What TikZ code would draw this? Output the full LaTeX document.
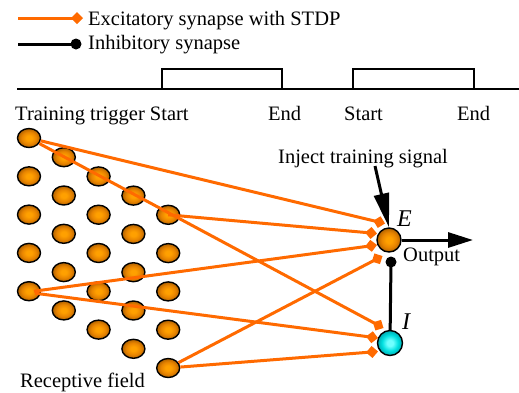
\documentclass[tikz,border=0pt]{standalone}
\usepackage{fontspec}
\setmainfont{Liberation Serif}
\usetikzlibrary{arrows.meta,shapes.geometric}

\definecolor{excline}{HTML}{FF6A00}
\definecolor{ballhi}{HTML}{FFA000}
\definecolor{ballmid}{HTML}{E88400}
\definecolor{balllo}{HTML}{B06200}
\definecolor{cyanhi}{HTML}{70FFFF}
\definecolor{cyanmid}{HTML}{00E0E0}
\definecolor{cyanlo}{HTML}{00A8B0}

% radial shadings: the path edge sits at 25bp
\pgfdeclareradialshading{orangeball}{\pgfpoint{0bp}{0bp}}{%
  color(0bp)=(ballhi); color(6bp)=(ballhi); color(16bp)=(ballmid);
  color(25bp)=(balllo); color(50bp)=(balllo)}
\pgfdeclareradialshading{cyanball}{\pgfpoint{0bp}{0bp}}{%
  color(0bp)=(cyanhi); color(6bp)=(cyanhi); color(16bp)=(cyanmid);
  color(25bp)=(cyanlo); color(50bp)=(cyanlo)}

\tikzset{
  cell/.style={ellipse, draw=black, line width=1.4pt, minimum width=23pt,
    minimum height=19pt, inner sep=0pt, shade, shading=orangeball},
  excneuron/.style={circle, draw=black, line width=1.4pt, minimum size=24pt,
    inner sep=0pt, shade, shading=orangeball},
  inhneuron/.style={circle, draw=black, line width=1.4pt, minimum size=25pt,
    inner sep=0pt, shade, shading=cyanball},
  excsyn/.style={draw=excline, line width=3pt,
    -{Diamond[length=12pt,width=12pt]}},
  inhsyn/.style={draw=black, line width=3pt},
  inhdot/.style={circle, fill=black, minimum size=11pt, inner sep=0pt},
  bigarrow/.style={draw=black, line width=3pt},
  txt/.style={inner sep=0pt, anchor=base west},
  lbl/.style={inner sep=0pt, anchor=base west,
    font=\fontsize{24}{28}\selectfont\itshape},
}

\begin{document}
\begin{tikzpicture}[x=1pt, y=-1pt, font=\fontsize{20.5}{24}\selectfont]
\useasboundingbox (0,0) rectangle (519,392);

% legend
\coordinate (lgA1) at (18,18);
\coordinate (lgA2) at (83,18);
\coordinate (lgB1) at (18,44);
\node[inhdot] (lgBdot) at (76,44) {};
\draw[excsyn] (lgA1) -- (lgA2);
\draw[inhsyn] (lgB1) -- (lgBdot.center);
\node[txt] (lgAtxt) at (88,25) {Excitatory synapse with STDP};
\node[txt] (lgBtxt) at (88,49.5) {Inhibitory synapse};

% training trigger: time axis with two training windows
\draw[line width=1.5pt] (17,89) -- (519,89);
\draw[line width=1.5pt] (162,89) -- (162,69) -- (282,69) -- (282,89);
\draw[line width=1.5pt] (353,89) -- (353,69) -- (474,69) -- (474,89);
\node[txt] (trg) at (15,120) {Training trigger Start};
\node[txt] (end1) at (268,120) {End};
\node[txt] (start2) at (344,120) {Start};
\node[txt] (end2) at (457,120) {End};

% receptive field: 5x5 skewed grid of input cells
\foreach \i in {0,...,4}
  \foreach \j in {0,...,4}
    \node[cell] (c-\i-\j) at ({29+34.8*\i},{138+19.2*\i+38.3*\j}) {};
\node[txt] (rf) at (20,387) {Receptive field};

% output neurons
\node[excneuron] (E) at (389,240) {};
\node[inhneuron] (I) at (390,343) {};
\node[lbl] (Elbl) at (397,226) {E};
\node[lbl] (Ilbl) at (402,329) {I};

% synapse end points
\coordinate (eA) at (385,223.5);
\coordinate (eB) at (377,233.5);
\coordinate (eC) at (377,245);
\coordinate (eD) at (382.5,256);
\coordinate (iA) at (383.5,328);
\coordinate (iB) at (378,338);
\coordinate (iC) at (378,351.5);

% excitatory synapses with STDP
\draw[excsyn] (c-0-0) -- (eA);
\draw[excsyn] (c-4-0.center) -- (eB);
\draw[excsyn] ([xshift=5pt]c-0-4.center) -- (eC);
\draw[excsyn] (c-4-4) -- (eD);
\draw[excsyn] (c-0-0) -- (iA);
\draw[excsyn] ([xshift=6pt,yshift=-2pt]c-0-4.center) -- (iB);
\draw[excsyn] (c-4-4) -- (iC);

% inhibitory feedback
\node[inhdot] (Idot) at (391,262) {};
\draw[inhsyn] (Idot.center) -- (I);

% output and training signal
\coordinate (outEnd) at (473,240);
\draw[bigarrow, -{Triangle[length=25pt,width=15pt]}] (E) -- (outEnd);
\node[txt] (outlbl) at (403,261.5) {Output};
\coordinate (injStart) at (375,166);
\draw[bigarrow, -{Triangle[length=34pt,width=15pt]}] (injStart) -- (E.north);
\node[txt] (inj) at (278,163) {Inject training signal};
\end{tikzpicture}
\end{document}
